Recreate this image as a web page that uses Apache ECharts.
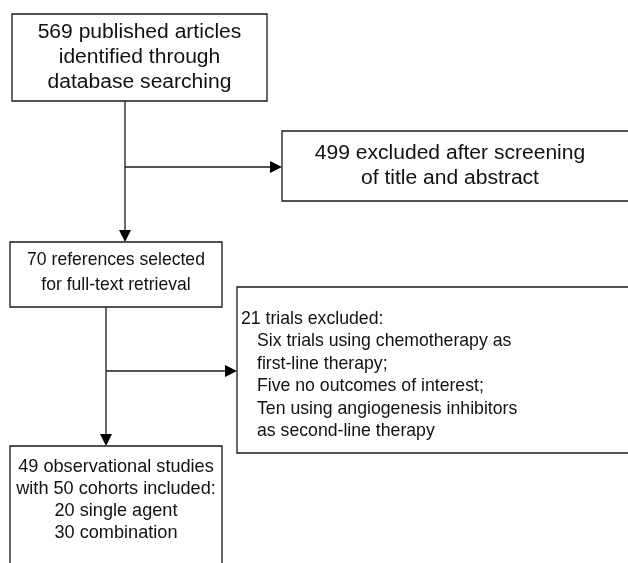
<!DOCTYPE html>
<html><head><meta charset="utf-8">
<script src="https://cdn.jsdelivr.net/npm/echarts@6/dist/echarts.min.js"></script>
<style>html,body{margin:0;padding:0;background:#fff}#c{width:628px;height:563px}</style>
</head><body><div id="c"></div>
<script>
// Flowchart content
var box1Lines = ["569 published articles", "identified through", "database searching"];
var box2Lines = ["499 excluded after screening", "of title and abstract"];
var box3Lines = ["70 references selected", "for full-text retrieval"];
var box4Lines = ["21 trials excluded:", "Six trials using chemotherapy as", "first-line therapy;", "Five no outcomes of interest;", "Ten using angiogenesis inhibitors", "as second-line therapy"];
var box4Indent = [0, 1, 1, 1, 1, 1];
var box5Lines = ["49 observational studies", "with 50 cohorts included:", "20 single agent", "30 combination"];

var FONT = '"Liberation Sans", Arial, sans-serif';
var STROKE = '#1a1a1a';
var LW = 1.3;

function rect(x, y, w, h) {
  return {type: 'rect', shape: {x: x, y: y, width: w, height: h},
    style: {fill: '#fff', stroke: STROKE, lineWidth: LW}};
}
function line(x1, y1, x2, y2) {
  return {type: 'line', shape: {x1: x1, y1: y1, x2: x2, y2: y2},
    style: {stroke: STROKE, lineWidth: LW}};
}
function arrowDown(x, y) {
  return {type: 'polygon', shape: {points: [[x - 6, y - 12], [x + 6, y - 12], [x, y]]},
    style: {fill: '#000'}};
}
function arrowRight(x, y) {
  return {type: 'polygon', shape: {points: [[x - 12, y - 6], [x - 12, y + 6], [x, y]]},
    style: {fill: '#000'}};
}
function texts(lines, cx, y0, lh, align, fs, sx, indents, indentPx) {
  return lines.map(function (t, i) {
    return {type: 'text', x: cx + (indents ? indents[i] * indentPx : 0), y: y0 + i * lh,
      scaleX: sx, scaleY: 1,
      style: {text: t, font: fs + 'px ' + FONT, fill: '#111', align: align, verticalAlign: 'middle'}};
  });
}

var els = [];
// connectors
els.push(line(125, 101, 125, 236));
els.push(line(125, 167, 276, 167));
els.push(arrowDown(125, 242));
els.push(arrowRight(282, 167));
els.push(line(106, 307, 106, 440));
els.push(line(106, 371, 231, 371));
els.push(arrowDown(106, 446));
els.push(arrowRight(237, 371));
// boxes
els.push(rect(12, 14, 255, 87));
els.push(rect(282, 131, 360, 70));
els.push(rect(10, 242, 212, 65));
els.push(rect(237, 287, 405, 166));
els.push(rect(10, 446, 212, 140));
// texts
els = els.concat(texts(box1Lines, 139.5, 33, 25, 'center', 19.5, 1.08));
els = els.concat(texts(box2Lines, 450, 154, 25, 'center', 19.5, 1.08));
els = els.concat(texts(box3Lines, 116, 260, 25, 'center', 18.5, 0.95));
els = els.concat(texts(box4Lines, 241, 319, 22.4, 'left', 18.5, 0.955, box4Indent, 16));
els = els.concat(texts(box5Lines, 116, 467, 22, 'center', 18.5, 0.98));

var chart = echarts.init(document.getElementById('c'), null, {renderer: 'canvas'});
chart.setOption({animation: false, graphic: {elements: els}});
</script></body></html>
